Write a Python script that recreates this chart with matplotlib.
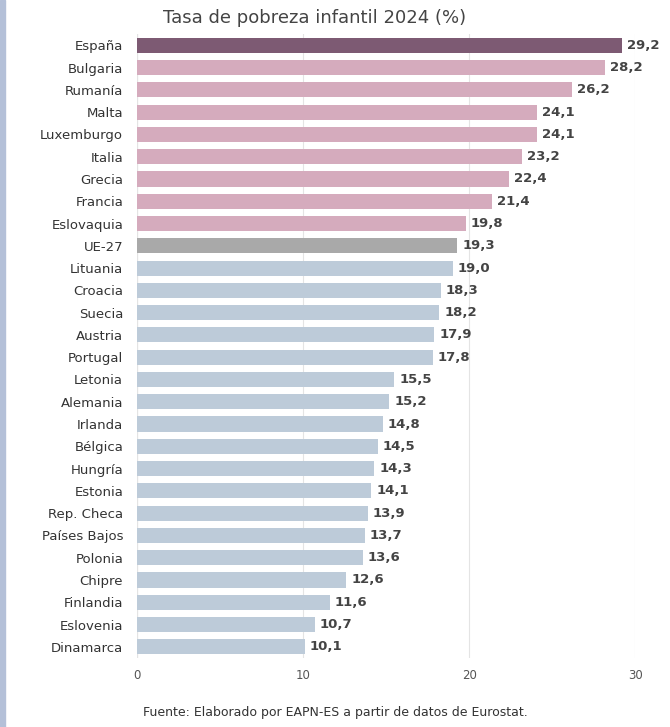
import matplotlib
matplotlib.use('Agg')
import matplotlib.pyplot as plt
from matplotlib.patches import Rectangle

countries = ['España', 'Bulgaria', 'Rumanía', 'Malta', 'Luxemburgo', 'Italia', 'Grecia',
             'Francia', 'Eslovaquia', 'UE-27', 'Lituania', 'Croacia', 'Suecia', 'Austria',
             'Portugal', 'Letonia', 'Alemania', 'Irlanda', 'Bélgica', 'Hungría', 'Estonia',
             'Rep. Checa', 'Países Bajos', 'Polonia', 'Chipre', 'Finlandia', 'Eslovenia',
             'Dinamarca']
values = [29.2, 28.2, 26.2, 24.1, 24.1, 23.2, 22.4, 21.4, 19.8, 19.3, 19.0, 18.3, 18.2,
          17.9, 17.8, 15.5, 15.2, 14.8, 14.5, 14.3, 14.1, 13.9, 13.7, 13.6, 12.6, 11.6,
          10.7, 10.1]

colors = []
for i, c in enumerate(countries):
    if c == 'España':
        colors.append('#7d5a73')
    elif c == 'UE-27':
        colors.append('#a9a9a9')
    elif i < 9:
        colors.append('#d5abbd')
    else:
        colors.append('#bdcbd9')

fig = plt.figure(figsize=(6.70, 7.27), dpi=100)
fig.patches.append(Rectangle((0, 0), 0.008, 1, transform=fig.transFigure,
                             color='#b4c0d8', zorder=0))
ax = fig.add_axes([0.2045, 0.095, 0.7435, 0.858])

y = list(range(len(countries)))
ax.barh(y, values, height=0.68, color=colors, zorder=2)
for yi, v in zip(y, values):
    ax.text(v + 0.3, yi, f'{v:.1f}'.replace('.', ','), va='center', ha='left',
            fontsize=9.5, color='#444444', fontweight='bold')

ax.set_ylim(len(countries) - 0.5, -0.5)
ax.set_xlim(0, 30)
ax.set_xticks([0, 10, 20, 30])
ax.set_yticks(y)
ax.set_yticklabels(countries, fontsize=9.5, color='#333333')
ax.tick_params(length=0, pad=10)
ax.tick_params(axis='x', labelsize=8.5, colors='#555555', pad=8)
ax.grid(axis='x', color='#e4e4e4', linewidth=0.8, zorder=0)
for s in ax.spines.values():
    s.set_visible(False)
ax.axvline(0, color='#d0d0d0', linewidth=0.8, zorder=1)

fig.text(0.47, 0.975, 'Tasa de pobreza infantil 2024 (%)', ha='center', va='center',
         fontsize=13, color='#444444')
fig.text(0.5, 0.02, 'Fuente: Elaborado por EAPN-ES a partir de datos de Eurostat.',
         ha='center', va='center', fontsize=9, color='#333333')

fig.savefig('out.png', dpi=100, facecolor='white')
